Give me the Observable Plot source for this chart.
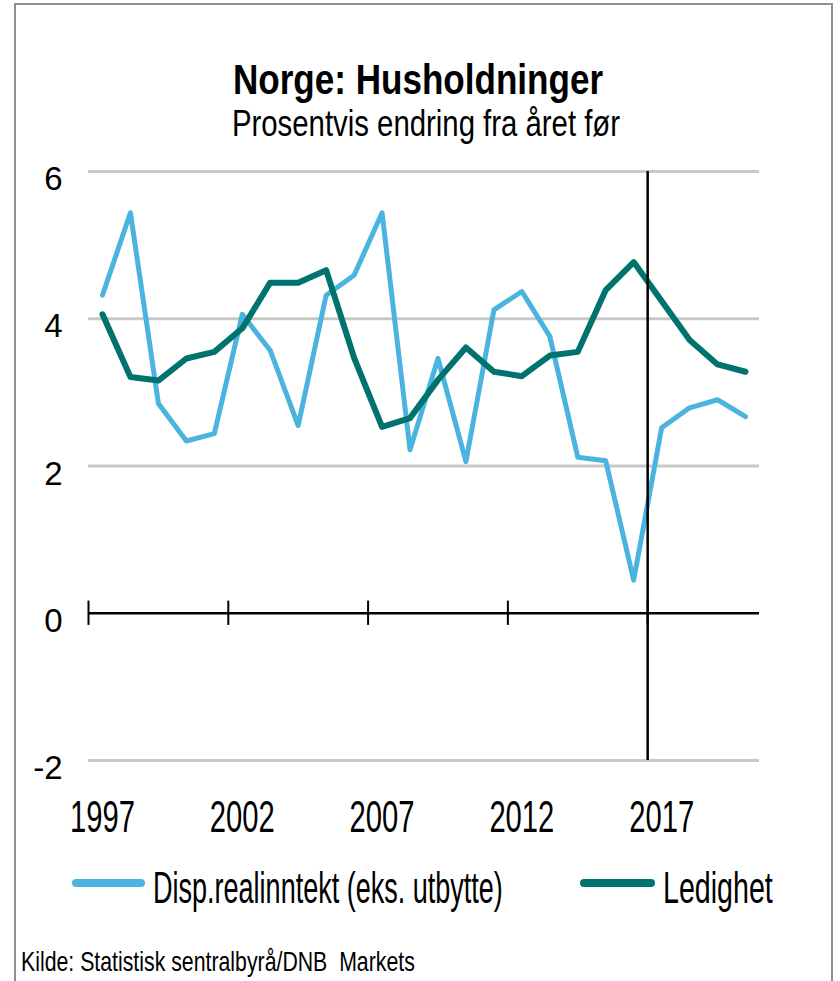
<!DOCTYPE html>
<html>
<head>
<meta charset="utf-8">
<script src="https://cdn.jsdelivr.net/npm/d3@7"></script>
<script src="https://cdn.jsdelivr.net/npm/@observablehq/plot@0.6"></script>
<style>
  html, body { margin: 0; padding: 0; background: #fff; }
  body { width: 840px; height: 981px; position: relative; overflow: hidden; font-family: "Liberation Sans", Arial, sans-serif; color: #000; }
  #frame { position: absolute; left: 14px; top: 3px; width: 819px; height: 1000px; border: 2.5px solid #8f8f8f; box-sizing: border-box; }
  .txt { position: absolute; white-space: nowrap; line-height: 1; }
  #title { font-size: 42px; font-weight: bold; top: 59px; left: 418px; transform: translateX(-50%) scaleX(0.835); transform-origin: center; }
  #subtitle { font-size: 36px; top: 106px; left: 426px; transform: translateX(-50%) scaleX(0.815); transform-origin: center; }
  #chart { position: absolute; left: 0; top: 150px; }
  .leg { font-size: 44px; top: 866px; transform-origin: left center; }
  .swatch { position: absolute; height: 8px; border-radius: 4px; top: 879px; }
  #source { font-size: 28px; top: 948px; left: 21px; transform: scaleX(0.76); transform-origin: left center; }
</style>
</head>
<body>
<div id="frame"></div>
<div id="title" class="txt">Norge: Husholdninger</div>
<div id="subtitle" class="txt">Prosentvis endring fra året før</div>
<div id="chart"></div>
<div class="swatch" style="left:72px;width:73px;background:#4bb3df"></div>
<div class="txt leg" style="left:153px;transform:scaleX(0.614)">Disp.realinntekt (eks. utbytte)</div>
<div class="swatch" style="left:580px;width:75px;background:#00736e"></div>
<div class="txt leg" style="left:663px;transform:scaleX(0.65)">Ledighet</div>
<div id="source" class="txt">Kilde: Statistisk sentralbyrå/DNB&nbsp; Markets</div>
<script>
const years = [1997,1998,1999,2000,2001,2002,2003,2004,2005,2006,2007,2008,2009,2010,2011,2012,2013,2014,2015,2016,2017,2018,2019,2020];
const dispRealinntekt = [4.32,5.44,2.85,2.34,2.44,4.06,3.57,2.55,4.32,4.59,5.44,2.22,3.46,2.06,4.12,4.37,3.76,2.12,2.07,0.45,2.52,2.79,2.90,2.67];
const ledighet = [4.06,3.21,3.16,3.46,3.55,3.87,4.49,4.49,4.66,3.47,2.53,2.65,3.17,3.61,3.28,3.22,3.50,3.55,4.39,4.77,4.24,3.71,3.38,3.28];
const xTickLabels = [1997,2002,2007,2012,2017];
const xTickMarks = [1996.5,2001.5,2006.5,2011.5,2016.5];
const yTicks = [-2,0,2,4,6];
const gridValues = [-2,2,4,6];
const markerYear = 2016.5;
const tickHalf = 0.165;

const dispData = years.map((y,i) => ({year: y, value: dispRealinntekt[i]}));
const ledData = years.map((y,i) => ({year: y, value: ledighet[i]}));

const chart = Plot.plot({
  width: 840,
  height: 700,
  marginLeft: 88,
  marginRight: 81,
  marginTop: 21,
  marginBottom: 90,
  style: {fontFamily: "'Liberation Sans', Arial, sans-serif", background: "transparent", color: "#000", overflow: "visible"},
  x: {domain: [1996.5, 2020.5]},
  y: {domain: [-2, 6]},
  marks: [
    Plot.ruleY(gridValues, {stroke: "#c8c8c8", strokeWidth: 3}),
    Plot.ruleY([0], {stroke: "#000", strokeWidth: 2.5}),
    Plot.ruleX(xTickMarks, {y1: -tickHalf, y2: tickHalf, stroke: "#000", strokeWidth: 2}),
    Plot.line(dispData, {x: "year", y: "value", stroke: "#4bb3df", strokeWidth: 5, strokeLinejoin: "round", strokeLinecap: "round"}),
    Plot.line(ledData, {x: "year", y: "value", stroke: "#00736e", strokeWidth: 6, strokeLinejoin: "round", strokeLinecap: "round"}),
    Plot.ruleX([markerYear], {y1: -2, y2: 6, stroke: "#000", strokeWidth: 2.5}),
    Plot.axisY({ticks: yTicks, tickSize: 0, tickPadding: 26, fontSize: 33, dy: 8, label: null, tickFormat: d => String(d)}),
    Plot.axisX({ticks: xTickLabels, tickSize: 0, tickPadding: 40, fontSize: 44, label: null, tickFormat: d => String(d)})
  ]
});
document.getElementById("chart").appendChild(chart);
// condense the year labels horizontally, like the reference
chart.querySelectorAll('g[aria-label="x-axis tick label"] text').forEach(t => {
  const tr = t.getAttribute("transform") || "";
  t.setAttribute("transform", tr + " scale(0.664,1)");
});
</script>
</body>
</html>
